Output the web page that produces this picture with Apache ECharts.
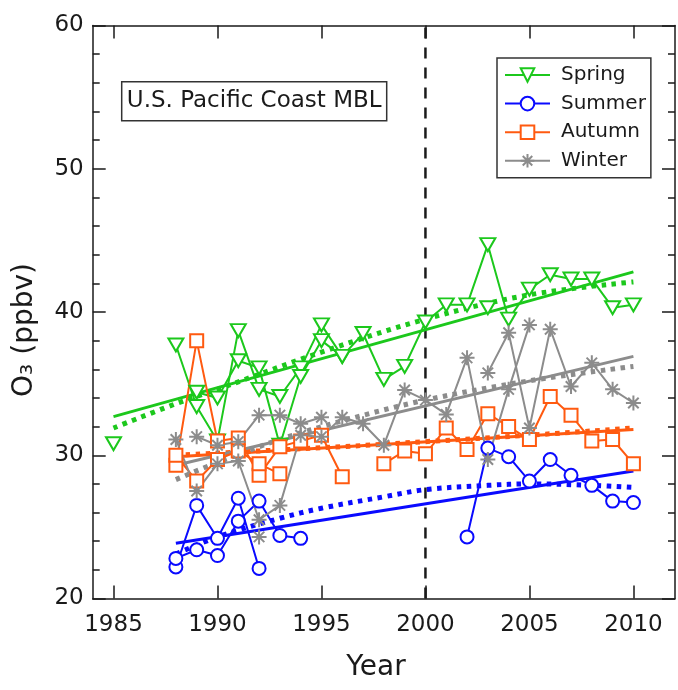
<!DOCTYPE html>
<html>
<head>
<meta charset="utf-8">
<script src="https://cdn.jsdelivr.net/npm/echarts@6/dist/echarts.min.js"></script>
<style>
  html, body { margin: 0; padding: 0; background: #fff; }
  #chart { width: 678px; height: 690px; }
</style>
</head>
<body>
<div id="chart"></div>
<script>
// Seasonal mean ozone, U.S. Pacific Coast marine boundary layer (ppbv)
const seasons = ['Spring', 'Summer', 'Autumn', 'Winter'];
const yearTicks = [1985, 1990, 1995, 2000, 2005, 2010];

// Spring records
const springYears1 = [1985];
const springO3_1 = [30.8];
const springYears2 = [1988, 1989, 1990, 1991, 1992, 1993, 1994, 1995, 1996, 1997, 1998, 1999, 2000, 2001, 2002, 2003, 2004, 2005, 2006, 2007, 2008, 2009, 2010];
const springO3_2 = [37.7, 33.4, 31.0, 38.7, 34.6, 34.1, 36.1, 39.1, 36.9, 38.5, 35.3, 36.2, 39.3, 40.5, 40.5, 44.7, 39.5, 41.6, 42.6, 42.3, 42.3, 40.3, 40.5];
const springYears3 = [1989, 1990, 1991, 1992, 1993, 1994, 1995, 1996];
const springO3_3 = [34.4, 34.0, 36.6, 36.1, 30.7, 35.5, 38.0, 36.9];
const springYears4 = [2003];
const springO3_4 = [40.3];

// Summer records
const summerYears1 = [1988, 1989, 1990, 1991, 1992];
const summerO3_1 = [22.2, 26.5, 24.2, 27.0, 22.1];
const summerYears2 = [1988, 1989, 1990, 1991, 1992, 1993, 1994];
const summerO3_2 = [22.8, 23.4, 23.0, 25.4, 26.8, 24.4, 24.2];
const summerYears3 = [2002, 2003, 2004, 2005, 2006, 2007, 2008, 2009, 2010];
const summerO3_3 = [24.3, 30.5, 29.9, 28.2, 29.7, 28.6, 27.9, 26.8, 26.7];

// Autumn records
const autumnYears1 = [1988, 1989, 1990, 1991, 1992, 1993, 1994, 1995, 1996];
const autumnO3_1 = [29.3, 38.0, 31.0, 31.2, 28.6, 30.6, 31.0, 31.4, 28.5];
const autumnYears2 = [1988, 1989, 1990, 1991, 1992, 1993];
const autumnO3_2 = [30.0, 28.2, 29.7, 30.3, 29.4, 28.7];
const autumnYears3 = [1998, 1999, 2000, 2001, 2002, 2003, 2004, 2005, 2006, 2007, 2008, 2009, 2010];
const autumnO3_3 = [29.4, 30.3, 30.1, 31.9, 30.4, 32.9, 32.0, 31.1, 34.1, 32.8, 31.0, 31.1, 29.4];

// Winter records
const winterYears1 = [1988, 1989, 1990, 1991, 1992, 1993, 1994, 1995, 1996, 1997, 1998, 1999, 2000, 2001, 2002, 2003, 2004, 2005];
const winterO3_1 = [31.1, 27.5, 29.4, 29.6, 25.5, 26.5, 31.4, 31.3, 32.65, 32.2, 30.7, 34.55, 33.85, 32.85, 36.8, 29.7, 34.6, 39.1];
const winterYears2 = [1989, 1990, 1991, 1992, 1993, 1994, 1995];
const winterO3_2 = [31.3, 30.7, 30.95, 32.8, 32.8, 32.2, 32.65];
const winterYears3 = [1992];
const winterO3_3 = [24.3];
const winterYears4 = [2003, 2004, 2005, 2006, 2007, 2008, 2009, 2010];
const winterO3_4 = [35.75, 38.55, 31.9, 38.8, 34.8, 36.45, 34.6, 33.65];

// Linear trend end points
const springFitYears = [1985, 2010];
const springFit = [32.7, 42.8];
const summerFitYears = [1988, 2010];
const summerFit = [23.85, 28.9];
const autumnFitYears = [1988, 2010];
const autumnFit = [29.9, 31.8];
const winterFitYears = [1988, 2010];
const winterFit = [29.3, 36.9];

// Curved (quadratic) fits
const springCurveYears = [1985, 1988, 1990, 1995, 2000, 2005, 2010];
const springCurve = [31.9, 33.6, 34.6, 37.2, 39.5, 41.2, 42.1];
const summerCurveYears = [1988, 1990, 1993, 1995, 1998, 2000, 2003, 2005, 2008, 2010];
const summerCurve = [23.1, 24.3, 25.6, 26.3, 27.1, 27.6, 27.9, 28.0, 27.9, 27.75];
const autumnCurveYears = [1988, 1992, 1996, 2000, 2005, 2010];
const autumnCurve = [30.0, 30.3, 30.6, 30.95, 31.4, 31.9];
const winterCurveYears = [1988, 1990, 1993, 1996, 2000, 2005, 2010];
const winterCurve = [28.3, 29.5, 31.1, 32.4, 33.85, 35.2, 36.2];

const dividerYear = 2000;

const colors = { Spring: '#1cc81c', Summer: '#0a0aff', Autumn: '#ff5a10', Winter: '#8c8c8c' };
const FONT = "'DejaVu Sans', sans-serif";
const INK = '#1a1a1a';

const downTriangle = 'path://M0,0L20,0L10,18Z';
const asterisk = 'path://M10,0L10,20M0,10L20,10M3,3L17,17M17,3L3,17';

function pairs(xs, ys) { return xs.map((x, i) => [x, ys[i]]); }

function marks(name, xs, ys, symbol, size) {
  const c = colors[name];
  return {
    type: 'line', name, data: pairs(xs, ys), z: 3,
    symbol, symbolSize: size, showSymbol: true, showAllSymbol: true,
    lineStyle: { color: c, width: 2 },
    itemStyle: { color: '#fff', borderColor: c, borderWidth: 2 },
    emphasis: { disabled: true }, silent: true
  };
}
function fit(name, xs, ys, dotted) {
  const c = colors[name];
  return {
    type: 'line', name: name + (dotted ? ' curve' : ' fit'), data: pairs(xs, ys), z: 2,
    symbol: 'none', smooth: dotted ? 0.35 : false,
    lineStyle: dotted ? { color: c, width: 5, type: [4.5, 5.5], cap: 'butt' } : { color: c, width: 3 },
    emphasis: { disabled: true }, silent: true
  };
}

const series = [
  marks('Spring', springYears2, springO3_2, downTriangle, [15, 13]),
  marks('Spring', springYears1, springO3_1, downTriangle, [15, 13]),
  marks('Spring', springYears3, springO3_3, downTriangle, [15, 13]),
  marks('Spring', springYears4, springO3_4, downTriangle, [15, 13]),
  marks('Summer', summerYears1, summerO3_1, 'circle', 13),
  marks('Summer', summerYears2, summerO3_2, 'circle', 13),
  marks('Summer', summerYears3, summerO3_3, 'circle', 13),
  marks('Autumn', autumnYears1, autumnO3_1, 'rect', 13),
  marks('Autumn', autumnYears2, autumnO3_2, 'rect', 13),
  marks('Autumn', autumnYears3, autumnO3_3, 'rect', 13),
  marks('Winter', winterYears1, winterO3_1, asterisk, 15),
  marks('Winter', winterYears2, winterO3_2, asterisk, 15),
  marks('Winter', winterYears3, winterO3_3, asterisk, 15),
  marks('Winter', winterYears4, winterO3_4, asterisk, 15),
  fit('Spring', springFitYears, springFit, false),
  fit('Spring', springCurveYears, springCurve, true),
  fit('Summer', summerFitYears, summerFit, false),
  fit('Summer', summerCurveYears, summerCurve, true),
  fit('Autumn', autumnFitYears, autumnFit, false),
  fit('Autumn', autumnCurveYears, autumnCurve, true),
  fit('Winter', winterFitYears, winterFit, false),
  fit('Winter', winterCurveYears, winterCurve, true),
  {
    type: 'line', name: 'divider', data: [[dividerYear, 20], [dividerYear, 60]], z: 1,
    symbol: 'none', lineStyle: { color: INK, width: 2.5, type: [11, 9] }, silent: true
  }
];

const axisLine = { show: true, lineStyle: { color: INK, width: 1.5 } };
const tickStyle = { color: INK, width: 1.5 };

const option = {
  animation: false,
  backgroundColor: '#fff',
  grid: { left: 92.7, right: 3, top: 25.5, bottom: 91.5, containLabel: false, outerBoundsMode: 'none' },
  xAxis: [
    {
      type: 'value', min: 1984, max: 2012, position: 'bottom',
      axisLine, splitLine: { show: false },
      axisTick: { show: true, inside: true, length: 13, lineStyle: tickStyle, customValues: yearTicks },
      axisLabel: {
        show: true, customValues: yearTicks, margin: 15, fontFamily: FONT, fontSize: 23, color: INK,
        formatter: (v) => String(v)
      }
    },
    {
      type: 'value', min: 1984, max: 2012, position: 'top',
      axisLine, splitLine: { show: false },
      axisTick: { show: true, inside: true, length: 13, lineStyle: tickStyle, customValues: yearTicks },
      axisLabel: { show: false }
    }
  ],
  yAxis: [
    {
      type: 'value', min: 20, max: 60, interval: 10, position: 'left',
      axisLine, splitLine: { show: false },
      axisTick: { show: true, inside: true, length: 13, lineStyle: tickStyle },
      minorTick: { show: true, splitNumber: 5, length: 7, lineStyle: tickStyle },
      axisLabel: { margin: 9, fontFamily: FONT, fontSize: 23, color: INK }
    },
    {
      type: 'value', min: 20, max: 60, interval: 10, position: 'right',
      axisLine, splitLine: { show: false },
      axisTick: { show: true, inside: true, length: 13, lineStyle: tickStyle },
      minorTick: { show: true, splitNumber: 5, length: 7, lineStyle: tickStyle },
      axisLabel: { show: false }
    }
  ],
  legend: {
    data: seasons, orient: 'vertical', left: 497, top: 58,
    itemWidth: 45, itemHeight: 17, itemGap: 6.6,
    padding: [6, 5, 6, 7],
    borderColor: '#333', borderWidth: 1.5, backgroundColor: '#fff',
    selectedMode: false,
    textStyle: { fontFamily: FONT, fontSize: 20, color: INK, lineHeight: 22, padding: [0, 0, 0, 6] }
  },
  graphic: [
    {
      type: 'rect', z: 10,
      shape: { x: 121.7, y: 81.7, width: 265, height: 39 },
      style: { fill: '#fff', stroke: '#333', lineWidth: 1.5 }
    },
    {
      type: 'text', z: 11, x: 254.2, y: 101.5,
      style: { text: 'U.S. Pacific Coast MBL', font: '23px ' + FONT, fill: INK, align: 'center', verticalAlign: 'middle' }
    },
    {
      type: 'text', z: 11, x: 25, y: 330, rotation: Math.PI / 2,
      style: { text: 'O₃ (ppbv)', font: '28px ' + FONT, fill: INK, align: 'center', verticalAlign: 'middle' }
    },
    {
      type: 'text', z: 11, x: 376, y: 668,
      style: { text: 'Year', font: '28px ' + FONT, fill: INK, align: 'center', verticalAlign: 'middle' }
    }
  ],
  series
};

const chart = echarts.init(document.getElementById('chart'), null, { renderer: 'canvas' });
chart.setOption(option);
</script>
</body>
</html>
